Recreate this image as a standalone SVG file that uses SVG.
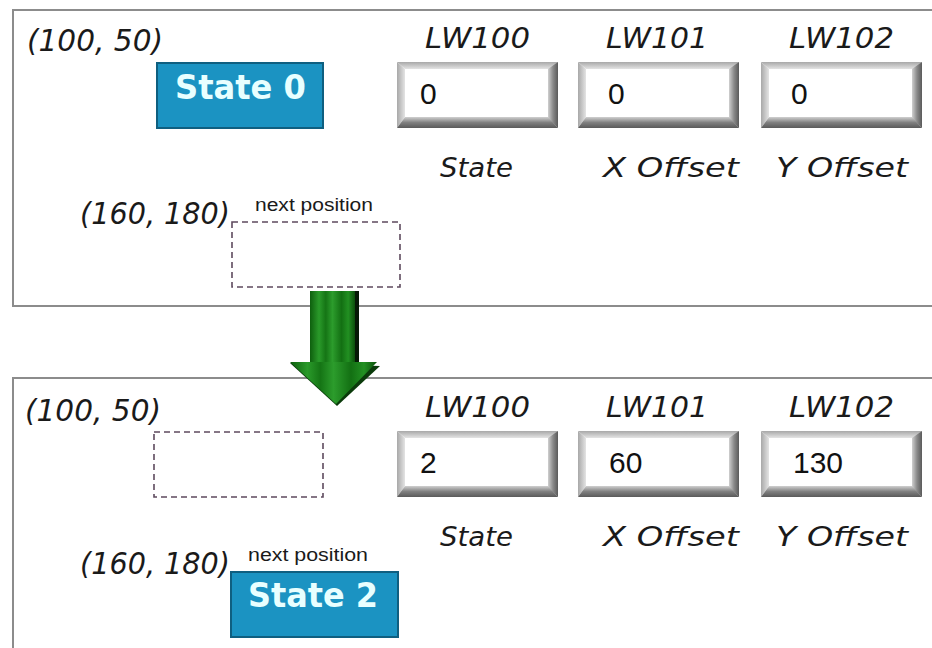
<svg xmlns="http://www.w3.org/2000/svg" width="932" height="648" viewBox="0 0 932 648">
<defs>
<linearGradient id="gBot" x1="0" y1="0" x2="0" y2="1"><stop offset="0" stop-color="#d0d0d0"/><stop offset="0.5" stop-color="#808080"/><stop offset="1" stop-color="#5a5a5a"/></linearGradient>
<linearGradient id="gRight" x1="0" y1="0" x2="1" y2="0"><stop offset="0" stop-color="#d0d0d0"/><stop offset="0.5" stop-color="#8a8a8a"/><stop offset="1" stop-color="#5a5a5a"/></linearGradient>
<linearGradient id="gTop" x1="0" y1="0" x2="0" y2="1"><stop offset="0" stop-color="#a8a8a8"/><stop offset="1" stop-color="#e4e4e4"/></linearGradient>
<linearGradient id="gLeft" x1="0" y1="0" x2="1" y2="0"><stop offset="0" stop-color="#a8a8a8"/><stop offset="1" stop-color="#e4e4e4"/></linearGradient>
<linearGradient id="gArrow" x1="0" y1="0" x2="1" y2="0">
<stop offset="0" stop-color="#0e5f0e"/><stop offset="0.2" stop-color="#2a9a2a"/><stop offset="0.35" stop-color="#157515"/><stop offset="0.5" stop-color="#2c9c2c"/><stop offset="0.7" stop-color="#137013"/><stop offset="0.85" stop-color="#229022"/><stop offset="1" stop-color="#0b500b"/>
</linearGradient>
<g id="field">
<polygon points="0,0 161,0 154,7 8,7" fill="url(#gTop)"/>
<polygon points="0,0 8,7 8,55 0,66" fill="url(#gLeft)"/>
<polygon points="161,0 161,66 151,56 151,7" fill="url(#gRight)"/>
<polygon points="0,66 161,66 151,55 8,55" fill="url(#gBot)"/>
<rect x="8" y="7" width="143" height="48" fill="#ffffff"/>
</g>
</defs>
<style>
.panel{fill:#ffffff;stroke:#8c8c8c;stroke-width:2}
.coord{font-family:"DejaVu Sans",sans-serif;font-style:italic;font-size:30px;fill:#1a1a1a}
.lw{font-family:"DejaVu Sans",sans-serif;font-style:italic;font-size:28px;fill:#1a1a1a}
.cap{font-family:"DejaVu Sans",sans-serif;font-style:italic;font-size:27px;fill:#1a1a1a}
.val{font-family:"Liberation Sans",Arial,sans-serif;font-size:30px;fill:#111}
.np{font-family:"Liberation Sans",Arial,sans-serif;font-size:18px;fill:#1a1a1a}
.btn{fill:#1b93c2;stroke:#0f5f80;stroke-width:2}
.btnt{font-family:"DejaVu Sans",sans-serif;font-weight:700;font-size:33px;fill:#e8ffff}
.dash{fill:none;stroke:#5e4a5e;stroke-width:1.6;stroke-dasharray:6 4}
</style>
<rect width="932" height="648" fill="#ffffff"/>

<g id="panel-top">
<rect class="panel" x="13" y="10" width="930" height="296"/>
<text class="coord" x="27" y="51" textLength="136" lengthAdjust="spacingAndGlyphs">(100, 50)</text>
<text class="coord" x="80" y="224" textLength="150" lengthAdjust="spacingAndGlyphs">(160, 180)</text>
<text class="np" x="255" y="211" textLength="118" lengthAdjust="spacingAndGlyphs">next position</text>
<rect class="dash" x="232" y="222" width="168" height="65"/>
</g>
<g id="state0">
<rect class="btn" x="157" y="63" width="166" height="65"/>
<text class="btnt" x="175" y="99" textLength="131" lengthAdjust="spacingAndGlyphs">State 0</text>
</g>
<g id="lw100-top">
<text class="lw" x="425" y="48" textLength="105" lengthAdjust="spacingAndGlyphs">LW100</text>
<use href="#field" x="397" y="62"/>
<text class="val" x="420" y="104">0</text>
<text class="cap" x="440" y="177" textLength="73" lengthAdjust="spacingAndGlyphs">State</text>
</g>
<g id="lw101-top">
<text class="lw" x="606" y="48" textLength="102" lengthAdjust="spacingAndGlyphs">LW101</text>
<use href="#field" x="578" y="62"/>
<text class="val" x="608" y="104">0</text>
<text class="cap" x="603" y="177" textLength="136" lengthAdjust="spacingAndGlyphs">X Offset</text>
</g>
<g id="lw102-top">
<text class="lw" x="789" y="48" textLength="105" lengthAdjust="spacingAndGlyphs">LW102</text>
<use href="#field" x="761" y="62"/>
<text class="val" x="791" y="104">0</text>
<text class="cap" x="776" y="177" textLength="132" lengthAdjust="spacingAndGlyphs">Y Offset</text>
</g>

<g id="panel-bottom">
<rect class="panel" x="13" y="378" width="930" height="290"/>
<text class="coord" x="25" y="421" textLength="136" lengthAdjust="spacingAndGlyphs">(100, 50)</text>
<text class="coord" x="80" y="574" textLength="150" lengthAdjust="spacingAndGlyphs">(160, 180)</text>
<text class="np" x="248" y="561" textLength="120" lengthAdjust="spacingAndGlyphs">next position</text>
<rect class="dash" x="154" y="432" width="169" height="65"/>
</g>
<g id="state2">
<rect class="btn" x="231" y="572" width="167" height="65"/>
<text class="btnt" x="248" y="607" textLength="130" lengthAdjust="spacingAndGlyphs">State 2</text>
</g>
<g id="lw100-bottom">
<text class="lw" x="425" y="417" textLength="105" lengthAdjust="spacingAndGlyphs">LW100</text>
<use href="#field" x="397" y="431"/>
<text class="val" x="420" y="473">2</text>
<text class="cap" x="440" y="546" textLength="73" lengthAdjust="spacingAndGlyphs">State</text>
</g>
<g id="lw101-bottom">
<text class="lw" x="606" y="417" textLength="102" lengthAdjust="spacingAndGlyphs">LW101</text>
<use href="#field" x="578" y="431"/>
<text class="val" x="609" y="473">60</text>
<text class="cap" x="603" y="546" textLength="136" lengthAdjust="spacingAndGlyphs">X Offset</text>
</g>
<g id="lw102-bottom">
<text class="lw" x="789" y="417" textLength="105" lengthAdjust="spacingAndGlyphs">LW102</text>
<use href="#field" x="761" y="431"/>
<text class="val" x="793" y="473">130</text>
<text class="cap" x="776" y="546" textLength="132" lengthAdjust="spacingAndGlyphs">Y Offset</text>
</g>

<g id="connectors">
<rect x="310" y="291" width="49" height="72" fill="#061a06"/>
<rect x="310" y="291" width="45" height="72" fill="url(#gArrow)"/>
<polygon points="290,363 380,366 337,406" fill="#0a3a0a"/>
<polygon points="290,362 377,362 336,404" fill="url(#gArrow)"/>
</g>
</svg>
